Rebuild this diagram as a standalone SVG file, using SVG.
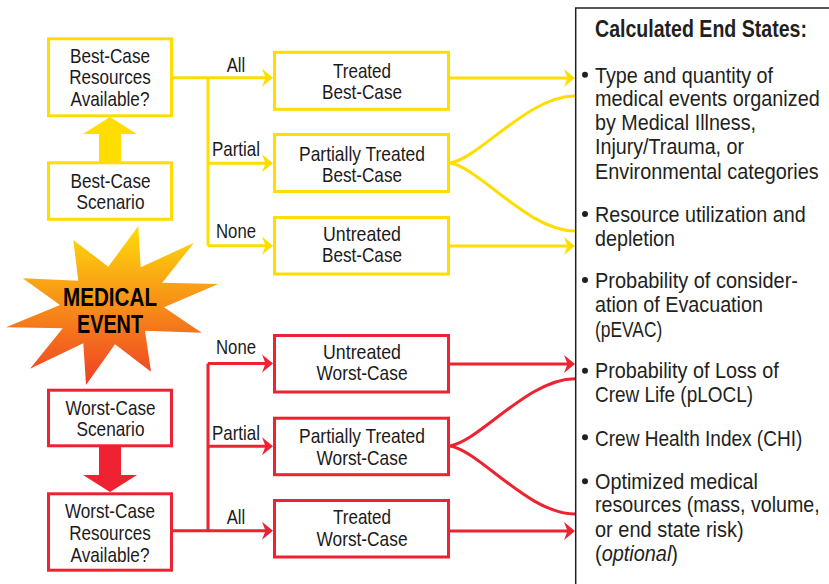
<svg xmlns="http://www.w3.org/2000/svg" width="829" height="584" viewBox="0 0 829 584">
<style>
text{font-family:"Liberation Sans",Arial,sans-serif;fill:#1c1a1b;font-size:21px;text-anchor:middle}
.y{fill:#fff;stroke:#ffdd00;stroke-width:3}
.r{fill:#fff;stroke:#ee2230;stroke-width:3}
.cy{fill:none;stroke:#ffdd00;stroke-width:3}
.cr{fill:none;stroke:#ee2230;stroke-width:3}
.ay{marker-end:url(#hy)}
.ar{marker-end:url(#hr)}
.b{font-weight:700;font-size:26.5px;fill:#000}
.p text{font-size:22.5px;text-anchor:start;fill:#231f20}
.p .h{font-weight:700;font-size:23px}
.p circle{fill:#231f20}
</style>
<defs>
<marker id="hy" markerUnits="userSpaceOnUse" viewBox="0 0 11 19" markerWidth="11" markerHeight="19" refX="6" refY="9.5" orient="auto"><path d="M0 .5L11 9.5L0 18.5L3.5 9.5Z" fill="#ffdd00"/></marker>
<marker id="hr" markerUnits="userSpaceOnUse" viewBox="0 0 11 19" markerWidth="11" markerHeight="19" refX="6" refY="9.5" orient="auto"><path d="M0 .5L11 9.5L0 18.5L3.5 9.5Z" fill="#ee2230"/></marker>
<linearGradient id="g" x1="0" y1="0" x2="0" y2="1"><stop offset="0" stop-color="#ffdd0a"/><stop offset="1" stop-color="#ef3e26"/></linearGradient>
</defs>
<g id="connectors">
<path class="cy" d="M172 77.7H208M208 77.7V245.7"/>
<path class="cy ay" d="M208 77.7H268"/>
<path class="cy ay" d="M208 163.3H268"/>
<path class="cy ay" d="M208 245.7H268"/>
<path class="cy ay" d="M450 78H570"/>
<path class="cy ay" d="M450 246H570"/>
<path class="cy" d="M450 163C480 158 528 96 575 96M450 163C480 168 528 231 575 231"/>
<path class="cr" d="M172 530.7H208M208 363.5V530.7"/>
<path class="cr ar" d="M208 363.5H268"/>
<path class="cr ar" d="M208 446.3H268"/>
<path class="cr ar" d="M208 530.7H268"/>
<path class="cr ar" d="M450 364H570"/>
<path class="cr ar" d="M450 531H570"/>
<path class="cr" d="M450 446C480 441 528 378.7 575 378.7M450 446C480 451 528 514 575 514"/>
<path fill="#ffdd00" d="M110 117L137 134H121V162H99V134H83Z"/>
<path fill="#ee2230" d="M110 492L137 475H121V447H99V475H83Z"/>
</g>
<g id="edge-labels">
<text x="236" y="71.7" textLength="18.5" lengthAdjust="spacingAndGlyphs">All</text>
<text x="236" y="155.7" textLength="48" lengthAdjust="spacingAndGlyphs">Partial</text>
<text x="236" y="238.3" textLength="40" lengthAdjust="spacingAndGlyphs">None</text>
<text x="236" y="354.3" textLength="40" lengthAdjust="spacingAndGlyphs">None</text>
<text x="236" y="439.7" textLength="48" lengthAdjust="spacingAndGlyphs">Partial</text>
<text x="236" y="524" textLength="18.5" lengthAdjust="spacingAndGlyphs">All</text>
</g>
<g id="best-resources"><rect class="y" x="48.5" y="38.8" width="123" height="77"/>
<text x="110" y="62.7" textLength="80" lengthAdjust="spacingAndGlyphs">Best-Case</text>
<text x="110" y="84.3" textLength="81.5" lengthAdjust="spacingAndGlyphs">Resources</text>
<text x="110" y="106" textLength="79" lengthAdjust="spacingAndGlyphs">Available?</text></g>
<g id="best-scenario"><rect class="y" x="48.5" y="162.8" width="123" height="56.5"/>
<text x="110.5" y="187.7" textLength="80" lengthAdjust="spacingAndGlyphs">Best-Case</text>
<text x="110.5" y="209.3" textLength="68" lengthAdjust="spacingAndGlyphs">Scenario</text></g>
<g id="medical-event">
<path fill="url(#g)" d="M138.3 226L140.7 267.3L194 242.7L162.3 282.7L218.3 284L164 307.3L201.7 332.7L145 330.7L151 371.7L115 344.3L86 385L83.3 343.3L30 368.7L62.7 328.3L6 327.3L60 305L22.7 278.3L78.3 280.7L73.3 240L108.3 266.7Z"/>
<text class="b" x="110" y="305.7" textLength="94" lengthAdjust="spacingAndGlyphs">MEDICAL</text>
<text class="b" x="110" y="332.7" textLength="66" lengthAdjust="spacingAndGlyphs">EVENT</text></g>
<g id="worst-scenario"><rect class="r" x="48.5" y="390.2" width="123" height="55.6"/>
<text x="110.5" y="414.7" textLength="90" lengthAdjust="spacingAndGlyphs">Worst-Case</text>
<text x="110.5" y="435.7" textLength="68" lengthAdjust="spacingAndGlyphs">Scenario</text></g>
<g id="worst-resources"><rect class="r" x="48.5" y="493.8" width="123" height="76.4"/>
<text x="110" y="518.3" textLength="90" lengthAdjust="spacingAndGlyphs">Worst-Case</text>
<text x="110" y="540" textLength="81.5" lengthAdjust="spacingAndGlyphs">Resources</text>
<text x="110" y="561.7" textLength="79" lengthAdjust="spacingAndGlyphs">Available?</text></g>
<g id="treated-best"><rect class="y" x="274.5" y="52.3" width="174" height="57"/>
<text x="362" y="77.5" textLength="58" lengthAdjust="spacingAndGlyphs">Treated</text>
<text x="362" y="98.5" textLength="80" lengthAdjust="spacingAndGlyphs">Best-Case</text></g>
<g id="partial-best"><rect class="y" x="274.5" y="134.5" width="174" height="57"/>
<text x="362" y="160.5" textLength="126" lengthAdjust="spacingAndGlyphs">Partially Treated</text>
<text x="362" y="181.5" textLength="80" lengthAdjust="spacingAndGlyphs">Best-Case</text></g>
<g id="untreated-best"><rect class="y" x="274.5" y="217.5" width="174" height="56.5"/>
<text x="362" y="240.5" textLength="78" lengthAdjust="spacingAndGlyphs">Untreated</text>
<text x="362" y="261.5" textLength="80" lengthAdjust="spacingAndGlyphs">Best-Case</text></g>
<g id="untreated-worst"><rect class="r" x="274.5" y="335.5" width="174" height="56.5"/>
<text x="362" y="358.5" textLength="78" lengthAdjust="spacingAndGlyphs">Untreated</text>
<text x="362" y="379.5" textLength="91" lengthAdjust="spacingAndGlyphs">Worst-Case</text></g>
<g id="partial-worst"><rect class="r" x="274.5" y="418.2" width="174" height="56.5"/>
<text x="362" y="442.5" textLength="126" lengthAdjust="spacingAndGlyphs">Partially Treated</text>
<text x="362" y="464.5" textLength="91" lengthAdjust="spacingAndGlyphs">Worst-Case</text></g>
<g id="treated-worst"><rect class="r" x="274.5" y="500.5" width="174" height="56.5"/>
<text x="362" y="523.5" textLength="58" lengthAdjust="spacingAndGlyphs">Treated</text>
<text x="362" y="545.5" textLength="91" lengthAdjust="spacingAndGlyphs">Worst-Case</text></g>
<g id="end-states" class="p">
<path d="M829 8H575.7V584" fill="none" stroke="#231f20" stroke-width="1.5"/>
<text class="h" transform="translate(595 37.3) scale(.85 1)" textLength="249.4" lengthAdjust="spacingAndGlyphs">Calculated End States:</text>
<circle cx="585" cy="74.7" r="3"/><circle cx="585" cy="214" r="3"/><circle cx="585" cy="280" r="3"/><circle cx="585" cy="370.7" r="3"/><circle cx="585" cy="437.3" r="3"/><circle cx="585" cy="481.3" r="3"/>
<text transform="translate(595 82.7) scale(.85 1)" textLength="209.4" lengthAdjust="spacingAndGlyphs">Type and quantity of</text>
<text transform="translate(595 106) scale(.85 1)" textLength="264.4" lengthAdjust="spacingAndGlyphs">medical events organized</text>
<text transform="translate(595 130) scale(.85 1)" textLength="189.4" lengthAdjust="spacingAndGlyphs">by Medical Illness,</text>
<text transform="translate(595 154.3) scale(.85 1)" textLength="175.3" lengthAdjust="spacingAndGlyphs">Injury/Trauma, or</text>
<text transform="translate(595 179) scale(.85 1)" textLength="263.2" lengthAdjust="spacingAndGlyphs">Environmental categories</text>
<text transform="translate(595 221.7) scale(.85 1)" textLength="247.9" lengthAdjust="spacingAndGlyphs">Resource utilization and</text>
<text transform="translate(595 246) scale(.85 1)" textLength="94.1" lengthAdjust="spacingAndGlyphs">depletion</text>
<text transform="translate(595 288.3) scale(.85 1)" textLength="238.8" lengthAdjust="spacingAndGlyphs">Probability of consider-</text>
<text transform="translate(595 312.3) scale(.85 1)" textLength="197.6" lengthAdjust="spacingAndGlyphs">ation of Evacuation</text>
<text transform="translate(595 336.7) scale(.85 1)" textLength="79.2" lengthAdjust="spacingAndGlyphs">(pEVAC)</text>
<text transform="translate(595 378.3) scale(.85 1)" textLength="216.1" lengthAdjust="spacingAndGlyphs">Probability of Loss of</text>
<text transform="translate(595 402.3) scale(.85 1)" textLength="185.9" lengthAdjust="spacingAndGlyphs">Crew Life (pLOCL)</text>
<text transform="translate(595 445.7) scale(.85 1)" textLength="243.9" lengthAdjust="spacingAndGlyphs">Crew Health Index (CHI)</text>
<text transform="translate(595 489) scale(.85 1)" textLength="191.8" lengthAdjust="spacingAndGlyphs">Optimized medical</text>
<text transform="translate(595 512.3) scale(.85 1)" textLength="264.4" lengthAdjust="spacingAndGlyphs">resources (mass, volume,</text>
<text transform="translate(595 536.7) scale(.85 1)" textLength="174.9" lengthAdjust="spacingAndGlyphs">or end state risk)</text>
<text transform="translate(595 560.7) scale(.85 1)" textLength="97.6" lengthAdjust="spacingAndGlyphs">(<tspan font-style="italic">optional</tspan>)</text>
</g>
</svg>
